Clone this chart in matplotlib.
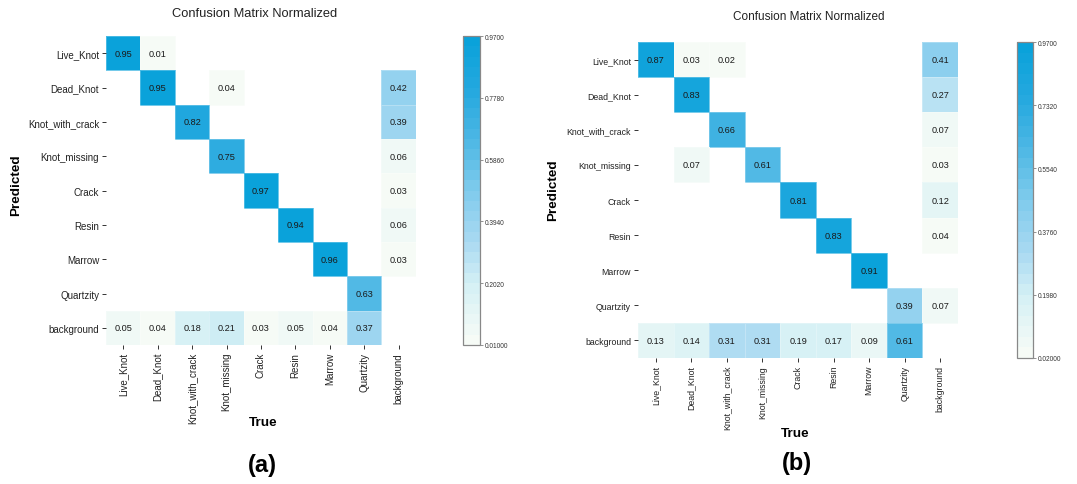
import numpy as np
import matplotlib
matplotlib.use("Agg")
import matplotlib.pyplot as plt
from matplotlib.colors import LinearSegmentedColormap, Normalize

plt.rcParams['font.family'] = ['Liberation Sans', 'DejaVu Sans']

classes = ['Live_Knot', 'Dead_Knot', 'Knot_with_crack', 'Knot_missing', 'Crack',
           'Resin', 'Marrow', 'Quartzity', 'background']

# rows = predicted, cols = true, 0 = empty cell
cm_a = np.array([
    [0.95, 0.01, 0,    0,    0,    0,    0,    0,    0],
    [0,    0.95, 0,    0.04, 0,    0,    0,    0,    0.42],
    [0,    0,    0.82, 0,    0,    0,    0,    0,    0.39],
    [0,    0,    0,    0.75, 0,    0,    0,    0,    0.06],
    [0,    0,    0,    0,    0.97, 0,    0,    0,    0.03],
    [0,    0,    0,    0,    0,    0.94, 0,    0,    0.06],
    [0,    0,    0,    0,    0,    0,    0.96, 0,    0.03],
    [0,    0,    0,    0,    0,    0,    0,    0.63, 0],
    [0.05, 0.04, 0.18, 0.21, 0.03, 0.05, 0.04, 0.37, 0],
])

cm_b = np.array([
    [0.87, 0.03, 0.02, 0,    0,    0,    0,    0,    0.41],
    [0,    0.83, 0,    0,    0,    0,    0,    0,    0.27],
    [0,    0,    0.66, 0,    0,    0,    0,    0,    0.07],
    [0,    0.07, 0,    0.61, 0,    0,    0,    0,    0.03],
    [0,    0,    0,    0,    0.81, 0,    0,    0,    0.12],
    [0,    0,    0,    0,    0,    0.83, 0,    0,    0.04],
    [0,    0,    0,    0,    0,    0,    0.91, 0,    0],
    [0,    0,    0,    0,    0,    0,    0,    0.39, 0.07],
    [0.13, 0.14, 0.31, 0.31, 0.19, 0.17, 0.09, 0.61, 0],
])

# colorbar tick labels as printed in the figure
cbar_labels_a = ['0.01000', '0.2020', '0.3940', '0.5860', '0.7780', '0.9700']
cbar_labels_b = ['0.02000', '0.1980', '0.3760', '0.5540', '0.7320', '0.9700']

cmap = LinearSegmentedColormap.from_list(
    'cm_blue',
    [(0.0, '#f6fbf6'), (0.18, '#d6f1f5'), (0.33, '#a9d9f2'), (0.5, '#7fcbec'),
     (0.65, '#52b9e5'), (0.82, '#27a9df'), (1.0, '#0aa2da')], N=30)


def draw_cm(fig, mat, ax_rect, cax_rect, cbar_labels, sizes, label_pos):
    ax = fig.add_axes(ax_rect)
    cax = fig.add_axes(cax_rect)
    vals = mat[mat > 0]
    norm = Normalize(vmin=vals.min(), vmax=vals.max())
    masked = np.ma.masked_where(mat == 0, mat)
    n = len(classes)
    mesh = ax.pcolormesh(np.arange(n + 1), np.arange(n + 1), masked, cmap=cmap,
                         norm=norm, edgecolors=(1, 1, 1, 0.25), linewidth=0.7)
    ax.set_xlim(0, n)
    ax.set_ylim(n, 0)
    for i in range(n):
        for j in range(n):
            if mat[i, j] > 0:
                ax.text(j + 0.5, i + 0.5, '%.2f' % mat[i, j], ha='center', va='center',
                        fontsize=sizes['annot'], color='#1a1a1a')
    for s in ax.spines.values():
        s.set_visible(False)
    ax.set_xticks(np.arange(n) + 0.5)
    ax.set_yticks(np.arange(n) + 0.5)
    ax.set_xticklabels(classes, rotation=90, fontsize=sizes['tick'], color='#222222')
    ax.set_yticklabels(classes, fontsize=sizes['tick'], color='#222222')
    ax.tick_params(length=3, width=0.7, color='#333333', pad=2)
    ax.set_xlabel('True', fontsize=sizes['label'], fontweight='bold')
    ax.set_ylabel('Predicted', fontsize=sizes['label'], fontweight='bold')
    ax.xaxis.set_label_coords(*label_pos['x'])
    ax.yaxis.set_label_coords(*label_pos['y'])

    cb = fig.colorbar(mesh, cax=cax)
    cb.set_ticks(np.linspace(norm.vmin, norm.vmax, 6))
    cb.set_ticklabels(cbar_labels)
    cb.ax.tick_params(labelsize=4.7, length=2, width=0.5, color='#666666',
                      labelcolor='#333333', pad=1.5)
    cb.outline.set_edgecolor('#888888')
    cb.outline.set_linewidth(0.9)
    return ax


fig = plt.figure(figsize=(10.77, 4.85), dpi=100)

draw_cm(fig, cm_a, [0.0984, 0.2866, 0.2878, 0.637], [0.4299, 0.2866, 0.0158, 0.637],
        cbar_labels_a, {'annot': 6.6, 'tick': 7, 'label': 9.7},
        {'x': (0.506, -0.23), 'y': (-0.271, 0.52)})
draw_cm(fig, cm_b, [0.5924, 0.2598, 0.2971, 0.6515], [0.9443, 0.2598, 0.0149, 0.6515],
        cbar_labels_b, {'annot': 6.6, 'tick': 6.3, 'label': 9.7},
        {'x': (0.49, -0.218), 'y': (-0.247, 0.535)})

fig.text(255 / 1077, 1 - 14 / 485, 'Confusion Matrix Normalized', ha='center',
         va='center', fontsize=9.3, color='#222222')
fig.text(809 / 1077, 1 - 17 / 485, 'Confusion Matrix Normalized', ha='center',
         va='center', fontsize=8.5, color='#222222')
fig.text(262 / 1077, 1 - 466 / 485, '(a)', ha='center', va='center',
         fontsize=17, fontweight='bold')
fig.text(797 / 1077, 1 - 464 / 485, '(b)', ha='center', va='center',
         fontsize=17, fontweight='bold')

fig.savefig('out.png', dpi=100)
